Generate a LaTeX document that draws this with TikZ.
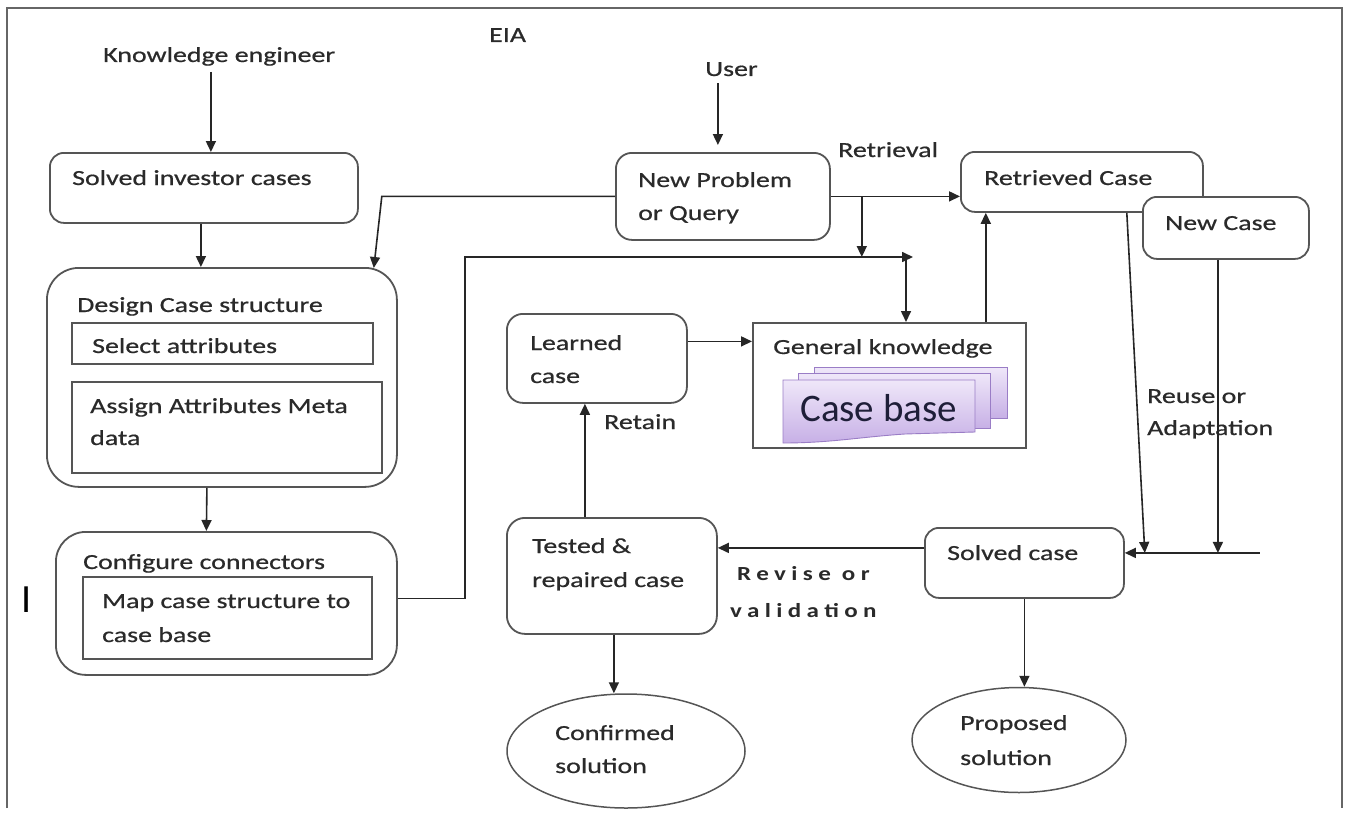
\documentclass[tikz,border=0pt]{standalone}
\usepackage{fontspec}
\setmainfont{Carlito}[FakeStretch=1.3,FakeBold=0.6]
\newfontfamily\plainfont{Carlito}
\newfontfamily\widefont{Carlito}[FakeStretch=1.25,LetterSpace=27]
\usetikzlibrary{arrows.meta,calc,shapes.geometric}
\definecolor{ink}{HTML}{2A2A2A}
\definecolor{edge}{HTML}{555555}
\definecolor{wire}{HTML}{262626}
\definecolor{frame}{HTML}{666666}
\definecolor{cardtop}{HTML}{EFE7F9}
\definecolor{cardbot}{HTML}{C7B0E6}
\definecolor{cardrim}{HTML}{9A7DC6}
\definecolor{cardink}{HTML}{1E1E38}
\begin{document}
\begin{tikzpicture}[x=1pt,y=-1pt,
  every node/.style={font=\fontsize{21.5}{26}\selectfont, text=ink},
  txt/.style={anchor=base west, inner sep=0pt},
  rbox/.style={draw=edge, line width=1.8pt, fill=white, inner sep=0pt,
               anchor=north west, rounded corners=#1},
  rbox/.default=14pt,
  sbox/.style={draw=edge, line width=1.8pt, fill=white, inner sep=0pt,
               anchor=north west},
  oval/.style={draw=edge, line width=1.5pt, ellipse, inner sep=0pt},
  arr/.style={draw=wire, line width=1.6pt, -{Triangle[length=11pt,width=10pt]}},
  card/.style={draw=cardrim, line width=0.9pt, top color=cardtop, bottom color=cardbot}]

\useasboundingbox (0,0) rectangle (1356,824);
\fill[white] (0,0) rectangle (1356,824);

% outer frame, open at the bottom
\draw[frame, line width=1.7pt] (7,808) -- (7,8) -- (1342,8) -- (1342,808);

% free labels
\node[txt] (ke) at (103,62) {Knowledge engineer};
\node[txt] (eia) at (489,42) {EIA};
\node[txt] (user) at (705,76) {User};
\node[txt] (retrieval) at (838,157) {Retrieval};
\node[txt] (retain) at (604,429) {Retain};
\node[txt] (reuse1) at (1147,403) {Reuse or};
\node[txt] (reuse2) at (1147,435) {Adaptation};
\node[txt, font=\widefont\bfseries\fontsize{20}{24}\selectfont] (revise1) at (737,580) {Revise or};
\node[txt, font=\widefont\bfseries\fontsize{20}{24}\selectfont] (revise2) at (730,617) {validation};
\node[txt, font=\plainfont\fontsize{40}{40}\selectfont, text=black] (cursor) at (21,612) {I};

% knowledge engineering side
\node[rbox, minimum width=308pt, minimum height=70pt] (solved) at (49,152) {};
\node[txt] (solved-t) at (72,185) {Solved investor cases};

\node[rbox=32pt, minimum width=350pt, minimum height=219pt] (design) at (46,267) {};
\node[txt] (design-t) at (77,312) {Design Case structure};
\node[sbox, minimum width=301pt, minimum height=41pt] (sel) at (71,322) {};
\node[txt] (sel-t) at (92,353) {Select attributes};
\node[sbox, minimum width=310pt, minimum height=91pt] (asg) at (71,381) {};
\node[txt] (asg-t1) at (90,413) {Assign Attributes Meta};
\node[txt] (asg-t2) at (90,445) {data};

\node[rbox=30pt, minimum width=341pt, minimum height=143pt] (conf) at (55,531) {};
\node[txt] (conf-t) at (83,569) {Configure connectors};
\node[sbox, minimum width=289pt, minimum height=82pt] (map) at (82,576) {};
\node[txt] (map-t1) at (102,608) {Map case structure to};
\node[txt] (map-t2) at (102,642) {case base};

% reasoning cycle
\node[rbox=16pt, minimum width=214pt, minimum height=87pt] (np) at (615,152) {};
\node[txt] (np-t1) at (638,187) {New Problem};
\node[txt] (np-t2) at (638,220) {or Query};

\node[rbox, minimum width=242pt, minimum height=60pt] (ret) at (960,151) {};
\node[txt] (ret-t) at (984,185) {Retrieved Case};
\node[rbox, minimum width=166pt, minimum height=62pt] (nc) at (1142,196) {};
\node[txt] (nc-t) at (1165,230) {New Case};

\node[rbox=16pt, minimum width=180pt, minimum height=89pt] (lc) at (506,313) {};
\node[txt] (lc-t1) at (530,350) {Learned};
\node[txt] (lc-t2) at (530,383) {case};

\node[sbox, minimum width=273pt, minimum height=125pt] (gk) at (752,322) {};
\node[txt] (gk-t) at (773,354) {General knowledge};

% stacked case base cards
\draw[card] (814,367) rectangle (1007,418);
\draw[card] (798,373) rectangle (990,428);
\draw[card] (783,380) -- (975,380) -- (975,432) -- (905,434)
  .. controls (860,437) and (830,443) .. (783,443) -- cycle;
\node[txt, font=\plainfont\fontsize{39}{40}\selectfont, text=cardink] (cb) at (800,421) {Case base};

\node[rbox=18pt, minimum width=210pt, minimum height=116pt] (tc) at (506,517) {};
\node[txt] (tc-t1) at (532,553) {Tested \&};
\node[txt] (tc-t2) at (532,587) {repaired case};

\node[rbox, minimum width=199pt, minimum height=70pt] (sc) at (924,527) {};
\node[txt] (sc-t) at (947,560) {Solved case};

\node[oval, minimum width=238pt, minimum height=114pt] (cs) at (626,751) {};
\node[txt] (cs-t1) at (555,740) {Confirmed};
\node[txt] (cs-t2) at (555,773) {solution};
\node[oval, minimum width=214pt, minimum height=105pt] (ps) at (1019,740) {};
\node[txt] (ps-t1) at (960,730) {Proposed};
\node[txt] (ps-t2) at (960,765) {solution};

% junction points of the shared lines
\coordinate (bus) at (465,257);
\coordinate (kb) at (906,257);

% connectors
\draw[arr] ($(solved.north |- ke.south)+(7,6)$) -- ($(solved.north)+(7,0)$);
\draw[arr] ($(np.north |- user.south)+(-5,7)$) -- ($(np.north)+(-5,-7)$);
\draw[arr] ($(solved.south)+(-3,0)$) -- ($(design.north)+(-21,0)$);
\draw[arr] ($(design.south)+(-15,0)$) -- ($(conf.north)+(-20,0)$);
\draw[arr] (np.west) -- ($(np.west -| design.north east)+(-16,0)$)
  -- ($(design.north east)+(-24,1)$);
\draw[arr] (np.east) -- (np.east -| ret.west);
\draw[arr] ($(np.east)+(31,0)$) -- ($(bus -| np.east)+(31,0)$);
\draw[arr] ($(conf.east)+(0,-5)$) -| (bus) -- ($(kb)+(7,0)$);
\draw[arr] (kb) -- (kb |- gk.north);
\draw[arr] ($(gk.north east)+(-41,0)$) -- ($(gk.north east |- ret.south)+(-41,0)$);
\draw[arr] ($(ret.south east)+(-77,0)$) -- ($(sc.east)+(20,-10)$);
\draw[arr] ($(nc.south)+(-8,0)$) -- ($(sc.east -| nc.south)+(-8,-10)$);
\draw[arr] ($(sc.east)+(135,-10)$) -- ($(sc.east)+(0,-10)$);
\draw[arr] ($(sc.west)+(0,-15)$) -- ($(sc.west -| tc.east)+(0,-15)$);
\draw[arr] ($(tc.north)+(-27,0)$) -- ($(lc.south -| tc.north)+(-27,0)$);
\draw[arr] ($(lc.east)+(0,-17)$) -- ($(lc.east -| gk.west)+(0,-17)$);
\draw[arr] ($(tc.south)+(2,0)$) -- ($(tc.south |- cs.north)+(2,0)$);
\draw[arr] (sc.south) -- (sc.south |- ps.north);

\end{tikzpicture}
\end{document}
